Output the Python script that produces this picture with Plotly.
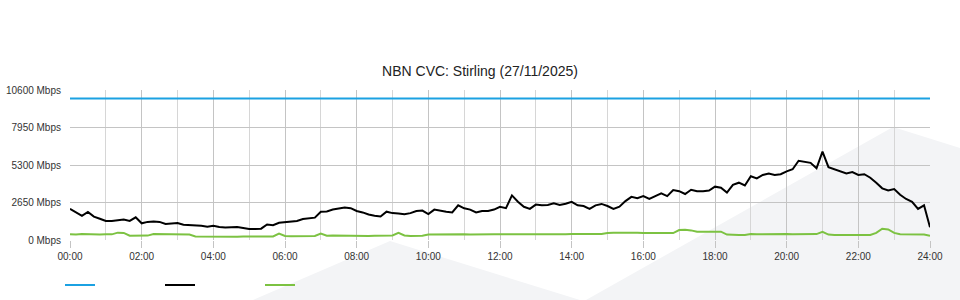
import plotly.graph_objects as go

# ---- data (10-minute samples, 00:00 .. 24:00) ----
minutes = list(range(0, 1441, 10))

capacity = [10000] * len(minutes)

download = [
    2200, 1950, 1700, 1980, 1650, 1500, 1340, 1340, 1400, 1450,
    1350, 1600, 1180, 1280, 1300, 1280, 1130, 1140, 1200, 1080,
    1060, 1030, 1000, 940, 1000, 920, 880, 900, 910, 850,
    780, 780, 800, 1100, 1050, 1220, 1250, 1300, 1350, 1480,
    1520, 1580, 2000, 2020, 2150, 2200, 2300, 2250, 2050, 1950,
    1800, 1720, 1660, 2000, 1900, 1880, 1820, 1900, 2050, 2080,
    1830, 2150, 2050, 2000, 1950, 2450, 2240, 2150, 1950, 2050,
    2050, 2150, 2350, 2250, 3150, 2700, 2350, 2200, 2500, 2450,
    2480, 2590, 2480, 2560, 2700, 2450, 2400, 2200, 2450, 2550,
    2400, 2200, 2350, 2750, 3050, 2950, 3100, 2900, 3100, 3300,
    3100, 3530, 3450, 3250, 3550, 3450, 3450, 3500, 3770, 3700,
    3350, 3900, 4050, 3850, 4500, 4350, 4600, 4700, 4600, 4650,
    4850, 5000, 5600, 5550, 5450, 5070, 6240, 5150, 5000, 4900,
    4700, 4800, 4600, 4650, 4400, 4050, 3650, 3500, 3600, 3200,
    2900, 2700, 2200, 2450, 900,
]

upload = [
    400, 380, 420, 390, 400, 380, 410, 400, 520, 500,
    300, 290, 300, 310, 420, 410, 430, 420, 410, 400,
    380, 250, 240, 260, 230, 250, 240, 230, 230, 240,
    250, 240, 250, 260, 250, 450, 280, 260, 270, 250,
    260, 280, 450, 300, 310, 300, 290, 300, 320, 300,
    280, 300, 310, 300, 320, 500, 320, 280, 290, 300,
    380, 390, 400, 380, 390, 400, 410, 390, 380, 400,
    390, 400, 410, 400, 390, 400, 410, 400, 400, 410,
    400, 420, 410, 400, 420, 410, 420, 410, 420, 430,
    500, 510, 520, 510, 500, 520, 490, 480, 500, 490,
    500, 490, 700, 720, 680, 580, 590, 600, 580, 590,
    380, 350, 350, 360, 420, 410, 420, 420, 410, 420,
    420, 410, 420, 420, 430, 420, 580, 380, 360, 360,
    370, 360, 360, 370, 360, 500, 800, 750, 500, 400,
    390, 410, 400, 380, 300,
]

x_tick_hours = list(range(0, 25, 2))
x_tick_labels = ["00:00", "02:00", "04:00", "06:00", "08:00", "10:00", "12:00",
                 "14:00", "16:00", "18:00", "20:00", "22:00", "24:00"]
y_tick_vals = [0, 2650, 5300, 7950, 10600]
y_tick_labels = ["0 Mbps", "2650 Mbps", "5300 Mbps", "7950 Mbps", "10600 Mbps"]
y_max = 10600

series_colors = ["#1ba1e2", "#000000", "#7cc242"]
series_names = ["", "", ""]

hours = [m / 60 for m in minutes]

fig = go.Figure()
for k, (vals, col, nm) in enumerate(zip([capacity, download, upload], series_colors, series_names)):
    fig.add_trace(go.Scatter(x=hours, y=vals, mode="lines", name=nm,
                             yaxis="y2" if k == 0 else "y",
                             line=dict(color=col, width=2), hoverinfo="skip"))

# faint background swooshes (page decoration)
W, H = 960, 300
L, R, T, B = 70, 930, 90, 240

def poly_px(points):
    pts = [((a - L) / (R - L), (B - b) / (B - T)) for a, b in points]
    path = "M " + " L ".join(f"{a:.4f},{b:.4f}" for a, b in pts) + " Z"
    return dict(type="path", xref="paper", yref="paper", path=path,
                fillcolor="#f3f4f6", line=dict(width=0), layer="below")

shapes = [
    poly_px([(586, 300), (893, 127), (960, 148), (960, 300)]),
    poly_px([(253, 300), (390, 241), (580, 300)]),
]

font_family = "Liberation Sans, Arial, sans-serif"

fig.update_layout(
    width=W, height=H,
    margin=dict(l=L, r=W - R, t=T, b=H - B, autoexpand=False),
    paper_bgcolor="white", plot_bgcolor="rgba(0,0,0,0)",
    font=dict(family=font_family, size=10, color="#333333"),
    title=dict(text="NBN CVC: Stirling (27/11/2025)", x=0.5, xanchor="center",
               y=1 - 71 / H, yanchor="middle",
               font=dict(size=14, color="#222222", family=font_family)),
    shapes=shapes,
    showlegend=True,
    legend=dict(orientation="h", xref="container", yref="container",
                x=60 / W, xanchor="left", y=(H - 285) / H, yanchor="middle",
                entrywidth=55, entrywidthmode="pixels",
                bgcolor="rgba(0,0,0,0)", font=dict(size=10),
                traceorder="normal"),
    hovermode=False,
)

fig.update_xaxes(
    range=[0, 24], tickmode="array", tickvals=x_tick_hours, ticktext=x_tick_labels,
    showgrid=True, gridcolor="#c4c4c4", gridwidth=1,
    ticks="outside", ticklen=7, tickcolor="#c4c4c4", tickwidth=1,
    minor=dict(dtick=1, tick0=0, showgrid=True, gridcolor="#d6d6d6", gridwidth=1, ticks=""),
    zeroline=False, showline=False, fixedrange=True,
    tickfont=dict(size=10, color="#333333"),
)
# main y axis: labels only
fig.update_layout(yaxis=dict(
    range=[0, y_max], tickmode="array", tickvals=y_tick_vals, ticktext=y_tick_labels,
    showgrid=False, zeroline=False, showline=False, ticks="", fixedrange=True,
    ticklabelstandoff=8, tickfont=dict(size=10, color="#333333"),
))
# overlay y axis: grid lines (no line at the very top)
fig.update_layout(yaxis2=dict(
    overlaying="y", side="left", range=[0, y_max], tickmode="array",
    tickvals=y_tick_vals[:-1], showticklabels=False,
    showgrid=True, gridcolor="#c4c4c4", gridwidth=1,
    zeroline=False, showline=False, ticks="", fixedrange=True,
))

fig.write_html("out.html")
